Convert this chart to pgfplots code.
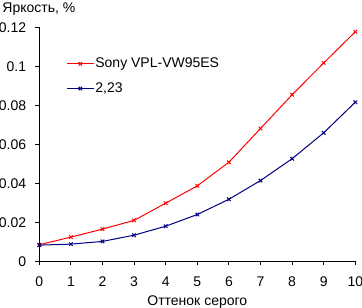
\documentclass[border=0pt]{standalone}
\usepackage{fontspec}
\setmainfont{Liberation Sans}
\usepackage{pgfplots}
\pgfplotsset{compat=1.18}
\usetikzlibrary{calc}
\definecolor{sred}{RGB}{255,0,0}
\definecolor{snavy}{RGB}{0,0,128}
\begin{document}
\fontsize{14bp}{16bp}\selectfont
\begin{tikzpicture}
\begin{axis}[
  scale only axis, width=316bp, height=234bp,
  xmin=0, xmax=10, ymin=0, ymax=0.12,
  axis x line*=bottom, axis y line*=left,
  axis line style={-, line width=1bp},
  xtick={0,1,2,3,4,5,6,7,8,9,10},
  ytick={0,0.02,0.04,0.06,0.08,0.1,0.12},
  tick align=outside, major tick length=4bp,
  tick style={line width=1bp, black},
  scaled y ticks=false,
  yticklabel style={/pgf/number format/fixed, /pgf/number format/precision=2},
  /pgf/number format/assume math mode=true,
  xticklabel style={anchor=base, yshift=-21bp, inner sep=0pt},
  yticklabel style={anchor=east, xshift=-9bp, inner sep=0pt},
  xlabel={Оттенок серого},
  xlabel style={at={(axis description cs:0.5,0)}, anchor=base, yshift=-43.7bp, inner sep=0pt},
  clip=false,
  legend style={at={(rel axis cs:0.085,0.875)}, anchor=north west, draw=none, fill=none,
    row sep=11bp, inner sep=0pt, nodes={inner sep=1bp}},
  legend cell align=left,
  legend image code/.code={\draw[mark repeat=2,mark phase=2,#1] plot coordinates {(0bp,0bp) (13.5bp,0bp) (27bp,0bp)};},
]
\coordinate (bl) at (rel axis cs:0,0);
\addplot[color=sred, line width=1bp, mark=x, mark size=2.5bp, mark options={solid}] coordinates {
(0,0.0085) (1,0.0124) (2,0.0165) (3,0.0210) (4,0.0298) (5,0.0387)
(6,0.0508) (7,0.0681) (8,0.0854) (9,0.1017) (10,0.1177)};
\addlegendentry{Sony VPL-VW95ES}
\addplot[color=snavy, line width=1bp, mark=x, mark size=2.5bp, mark options={solid}] coordinates {
(0,0.0083) (1,0.0088) (2,0.0102) (3,0.0134) (4,0.0180) (5,0.0240)
(6,0.0318) (7,0.0414) (8,0.0526) (9,0.0659) (10,0.0816)};
\addlegendentry{2,23}
\end{axis}
\node[anchor=base west, inner sep=0pt] at ($(bl)+(-37bp,249bp)$) {Яркость, \%};
\pgfresetboundingbox
\path[use as bounding box] ($(bl)+(-39.3bp,-46.7bp)$) rectangle ($(bl)+(322.7bp,261.3bp)$);
\end{tikzpicture}
\end{document}
